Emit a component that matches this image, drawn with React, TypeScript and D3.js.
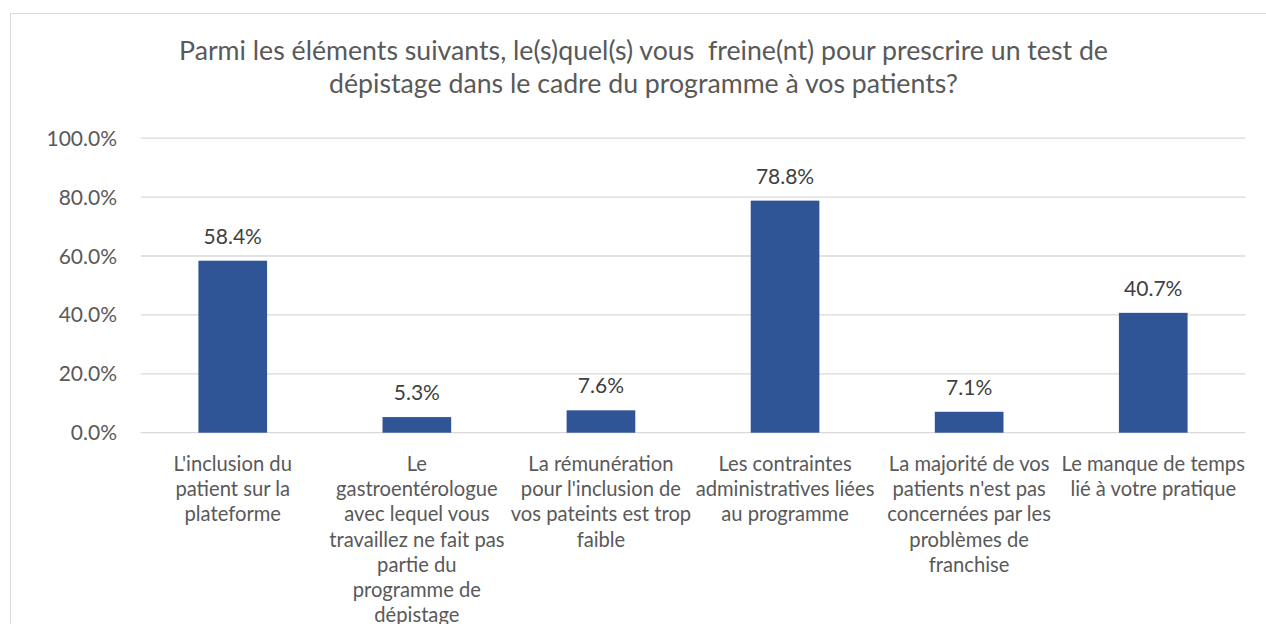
import { useEffect, useRef } from 'react';
import * as d3 from 'd3';

const categories = [
  ["L'inclusion du", 'patient sur la', 'plateforme'],
  ['Le', 'gastroentérologue', 'avec lequel vous', 'travaillez ne fait pas', 'partie du', 'programme de', 'dépistage'],
  ['La rémunération', "pour l'inclusion de", 'vos pateints est trop', 'faible'],
  ['Les contraintes', 'administratives liées', 'au programme'],
  ['La majorité de vos', "patients n'est pas", 'concernées par les', 'problèmes de', 'franchise'],
  ['Le manque de temps', 'lié à votre pratique'],
];
const values = [58.4, 5.3, 7.6, 78.8, 7.1, 40.7];
const yTicks = [0, 20, 40, 60, 80, 100];
const titleLines = [
  'Parmi les éléments suivants, le(s)quel(s) vous  freine(nt) pour prescrire un test de',
  'dépistage dans le cadre du programme à vos patients?',
];

export default function App() {
  const svgRef = useRef<SVGSVGElement>(null);

  useEffect(() => {
    const svg = d3.select(svgRef.current);
    svg.selectAll('*').remove();

    const width = 1266;
    const height = 624;
    const margin = { top: 138.2, left: 140.7, right: 20.7 };
    const plotBottom = 432.7;
    const font = 'Lato, "Open Sans", sans-serif';
    const textColor = '#595959';

    svg.attr('width', width).attr('height', height);

    // chart frame
    svg.append('rect')
      .attr('x', 10.5)
      .attr('y', 13.5)
      .attr('width', width)
      .attr('height', height)
      .attr('fill', '#fff')
      .attr('stroke', '#d9d9d9')
      .attr('stroke-width', 1);

    const x = d3.scaleBand<number>()
      .domain(values.map((_, i) => i))
      .range([margin.left, width - margin.right])
      .paddingInner(0.627)
      .paddingOuter(0.3135);

    const y = d3.scaleLinear()
      .domain([0, 100])
      .range([plotBottom, margin.top]);

    // gridlines
    svg.append('g')
      .selectAll('line')
      .data(yTicks)
      .join('line')
      .attr('x1', margin.left)
      .attr('x2', width - margin.right)
      .attr('y1', d => y(d))
      .attr('y2', d => y(d))
      .attr('stroke', '#d9d9d9')
      .attr('stroke-width', 1.3);

    // y tick labels
    svg.append('g')
      .selectAll('text')
      .data(yTicks)
      .join('text')
      .attr('x', 117)
      .attr('y', d => y(d))
      .attr('dy', '0.36em')
      .attr('text-anchor', 'end')
      .style('font-family', font)
      .style('font-size', '21px')
      .attr('fill', textColor)
      .text(d => d.toFixed(1) + '%');

    // bars
    svg.append('g')
      .selectAll('rect')
      .data(values)
      .join('rect')
      .attr('x', (_, i) => x(i)!)
      .attr('y', d => y(d))
      .attr('width', x.bandwidth())
      .attr('height', d => plotBottom - y(d))
      .attr('fill', '#2f5597');

    // data labels
    svg.append('g')
      .selectAll('text')
      .data(values)
      .join('text')
      .attr('x', (_, i) => x(i)! + x.bandwidth() / 2)
      .attr('y', d => y(d) - 17)
      .attr('text-anchor', 'middle')
      .style('font-family', font)
      .style('font-size', '21px')
      .attr('fill', '#404040')
      .text(d => d.toFixed(1) + '%');

    // category labels
    const cat = svg.append('g')
      .selectAll('text')
      .data(categories)
      .join('text')
      .attr('text-anchor', 'middle')
      .style('font-family', font)
      .style('font-size', '20.2px')
      .attr('fill', textColor);
    cat.each(function (lines, i) {
      const cx = x(i)! + x.bandwidth() / 2;
      d3.select(this)
        .selectAll('tspan')
        .data(lines)
        .join('tspan')
        .attr('x', cx)
        .attr('y', (_, j) => 471 + j * 25.2)
        .text(d => d);
    });

    // title
    svg.append('g')
      .selectAll('text')
      .data(titleLines)
      .join('text')
      .attr('x', 643.5)
      .attr('y', (_, i) => 60 + i * 32.5)
      .attr('text-anchor', 'middle')
      .style('font-family', font)
      .style('font-size', '26.7px')
      .style('white-space', 'pre')
      .attr('fill', textColor)
      .text(d => d);
  }, []);

  return (
    <svg
      ref={svgRef}
      style={{ position: 'absolute', left: 0, top: 0, display: 'block' }}
    />
  );
}
